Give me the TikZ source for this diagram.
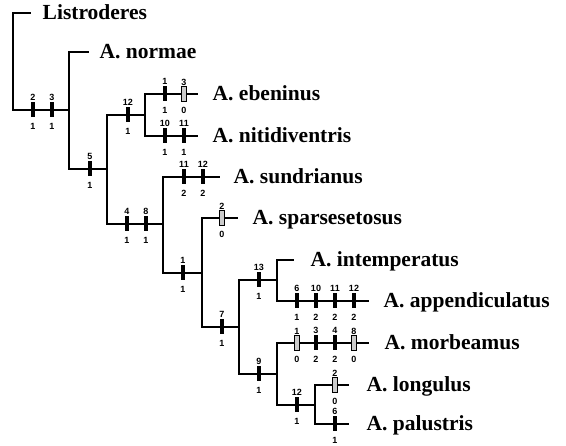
\documentclass[tikz,border=0pt]{standalone}
\usepackage{fontspec}
\setmainfont{Liberation Serif}
\setsansfont{Liberation Sans}
\usetikzlibrary{positioning, calc}
\newcommand{\branchD}[2]
{
	\draw (#1) |- (#2)
}
\newcommand{\charD}[5]
{
	\node[#1, label={[num]above:#4}, label={[num, label distance=4pt]below:#5}] at #3 (#2){}
}

\begin{document}
\begin{tikzpicture}[x=1pt, y=-1pt, line width=1.4pt, line cap=rect,
			taxon/.style={anchor=west, inner sep=0, text height=14pt, text depth=0pt,
				font=\fontsize{21.5}{24}\selectfont\bfseries},
			chr/.style={shape=rectangle, fill=black, inner sep=0,
				minimum width=4.5pt, minimum height=15pt, label distance=1.5pt},
			chrh/.style={chr, fill=black!20, draw=black, line width=0.7pt},
			num/.style={inner sep=0.3pt, font=\fontsize{9}{10}\selectfont\sffamily\bfseries}]
			
			\useasboundingbox (0,0) rectangle (566,446);
			
			% internal nodes
			\coordinate (n0) at (13,110);
			\coordinate (n1) at (69,110);
			\coordinate (n2) at (107,169);
			\coordinate (n3) at (145,115);
			\coordinate (n4) at (163,224);
			\coordinate (n5) at (202,273);
			\coordinate (n6) at (239,327);
			\coordinate (n7) at (277,280);
			\coordinate (n8) at (277,374);
			\coordinate (n9) at (315,405);
			
			% branch ends
			\coordinate (tLis) at (30,13);
			\coordinate (tNor) at (88,52);
			\coordinate (tEbe) at (197,94);
			\coordinate (tNit) at (197,136);
			\coordinate (tSun) at (219,177);
			\coordinate (tSpa) at (237,218);
			\coordinate (tInt) at (293,260);
			\coordinate (tApp) at (368,301);
			\coordinate (tMor) at (368,343);
			\coordinate (tLon) at (348,385);
			\coordinate (tPal) at (348,424);
			
			\node[taxon, right=12pt of tLis] (Lis){Listroderes};
			\node[taxon, right=11pt of tNor] (Nor){A. normae};
			\node[taxon, right=15pt of tEbe] (Ebe){A. ebeninus};
			\node[taxon, right=15pt of tNit] (Nit){A. nitidiventris};
			\node[taxon, right=14pt of tSun] (Sun){A. sundrianus};
			\node[taxon, right=15pt of tSpa] (Spa){A. sparsesetosus};
			\node[taxon, right=17pt of tInt] (Int){A. intemperatus};
			\node[taxon, right=15pt of tApp] (App){A. appendiculatus};
			\node[taxon, right=16pt of tMor] (Mor){A. morbeamus};
			\node[taxon, right=18pt of tLon] (Lon){A. longulus};
			\node[taxon, right=18pt of tPal] (Pal){A. palustris};
			
			\branchD{n0}{tLis};
			\branchD{n0}{n1};
			\branchD{n1}{tNor};
			\branchD{n1}{n2};
			\branchD{n2}{n3};
			\branchD{n3}{tEbe};
			\branchD{n3}{tNit};
			\branchD{n2}{n4};
			\branchD{n4}{tSun};
			\branchD{n4}{n5};
			\branchD{n5}{tSpa};
			\branchD{n5}{n6};
			\branchD{n6}{n7};
			\branchD{n7}{tInt};
			\branchD{n7}{tApp};
			\branchD{n6}{n8};
			\branchD{n8}{tMor};
			\branchD{n8}{n9};
			\branchD{n9}{tLon};
			\branchD{n9}{tPal};
			
			% characters
			\charD{chr}{c0a}{(33,110)}{2}{1};
			\charD{chr}{c0b}{(52,110)}{3}{1};
			\charD{chr}{c2a}{(90,169)}{5}{1};
			\charD{chr}{c3a}{(128,115)}{12}{1};
			\charD{chr}{cEa}{(165,94)}{1}{1};
			\charD{chrh}{cEb}{(184,94)}{3}{0};
			\charD{chr}{cNa}{(165,136)}{10}{1};
			\charD{chr}{cNb}{(184,136)}{11}{1};
			\charD{chr}{c4a}{(127,224)}{4}{1};
			\charD{chr}{c4b}{(146,224)}{8}{1};
			\charD{chr}{cSa}{(184,177)}{11}{2};
			\charD{chr}{cSb}{(203,177)}{12}{2};
			\charD{chr}{c5a}{(183,273)}{1}{1};
			\charD{chrh}{cPa}{(222,218)}{2}{0};
			\charD{chr}{c6a}{(222,327)}{7}{1};
			\charD{chr}{c7a}{(259,280)}{13}{1};
			\charD{chr}{cAa}{(297,301)}{6}{1};
			\charD{chr}{cAb}{(316,301)}{10}{2};
			\charD{chr}{cAc}{(335,301)}{11}{2};
			\charD{chr}{cAd}{(354,301)}{12}{2};
			\charD{chr}{c8a}{(259,374)}{9}{1};
			\charD{chrh}{cMa}{(297,343)}{1}{0};
			\charD{chr}{cMb}{(316,343)}{3}{2};
			\charD{chr}{cMc}{(335,343)}{4}{2};
			\charD{chrh}{cMd}{(354,343)}{8}{0};
			\charD{chr}{c9a}{(297,405)}{12}{1};
			\charD{chrh}{cLa}{(335,385)}{2}{0};
			\charD{chr}{cPb}{(335,424)}{6}{1};
		\end{tikzpicture}
\end{document}
